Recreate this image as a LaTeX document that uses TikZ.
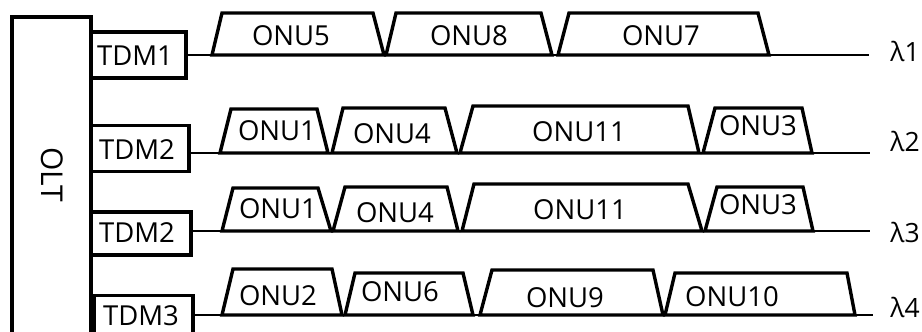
\documentclass[tikz,border=0pt]{standalone}
\usepackage{fontspec}
\setmainfont{Open Sans}
\begin{document}
\begin{tikzpicture}[x=1pt,y=-1pt,
  box/.style={draw,line width=3.2pt,inner sep=0pt},
  slot/.style={draw,line width=3.4pt,line join=miter},
  fibre/.style={draw,line width=1.4pt},
  lbl/.style={inner sep=0pt,font=\fontsize{27.5}{32}\selectfont},
  wl/.style={inner sep=0pt,font=\fontsize{26.5}{30}\selectfont}]
\useasboundingbox[fill=white] (0,0) rectangle (922,332);
\clip (0,0) rectangle (922,332);

% slot macro: name, bottom-left x, top-left x, top-right x, bottom-right x, top y, base y, text position, text
\newcommand\onuslot[9]{%
  \draw[slot] (#2,#7) -- (#3,#6) -- (#4,#6) -- (#5,#7) -- cycle;
  \node[lbl] (#1) at (#8) {#9};}

% OLT and its TDM line cards
\node[box,minimum width=79,minimum height=340] (olt) at (51.5,187) {};
\node[lbl,font=\fontsize{30}{34}\selectfont,rotate=-90] (oltname) at (52,175) {OLT};
\node[box,minimum width=95,minimum height=46] (tdm1) at (138.5,55) {};
\node[box,minimum width=98,minimum height=46] (tdm2) at (140,148.5) {};
\node[box,minimum width=100,minimum height=43] (tdm2b) at (141,233.5) {};
\node[box,minimum width=99,minimum height=49] (tdm3) at (143.5,320) {};
\node[lbl] (tdm1name) at (135,56) {TDM1};
\node[lbl] (tdm2name) at (137,150) {TDM2};
\node[lbl] (tdm2bname) at (137,233) {TDM2};
\node[lbl] (tdm3name) at (141,316) {TDM3};

% fibre ends and wavelength labels
\coordinate (e1) at (869,55);
\coordinate (e2) at (870,153);
\coordinate (e3) at (870,231);
\coordinate (e4) at (873,315);
\node[wl] (w1) at (905,51) {λ1};
\node[wl] (w2) at (905,141) {λ2};
\node[wl] (w3) at (905,232) {λ3};
\node[wl] (w4) at (905,307) {λ4};

\draw[fibre] (tdm1.east |- e1) -- (e1);
\draw[fibre] (tdm2.east |- e2) -- (e2);
\draw[fibre] (tdm2b.east |- e3) -- (e3);
\draw[fibre] (tdm3.east |- e4) -- (e4);

% lambda 1
\onuslot{o5}{212}{222}{373}{384}{13}{55}{291,36}{ONU5}
\onuslot{o8}{386}{396}{541}{552}{13}{55}{469,36}{ONU8}
\onuslot{o7}{558}{569}{758}{769}{13}{55}{661,36}{ONU7}
% lambda 2
\onuslot{o1a}{220}{231}{317}{328}{109}{153}{277,131}{ONU1}
\onuslot{o4a}{332}{343}{445}{457}{108}{153}{392,134}{ONU4}
\onuslot{o11a}{460}{473}{688}{699}{106}{153}{579,132}{ONU11}
\onuslot{o3a}{703}{715}{802}{812}{108}{153}{758,126}{ONU3}
% lambda 3
\onuslot{o1b}{222}{233}{318}{331}{188}{231}{278,209}{ONU1}
\onuslot{o4b}{333}{345}{447}{458}{187}{231}{395,213}{ONU4}
\onuslot{o11b}{462}{474}{688}{702}{184}{231}{580,210}{ONU11}
\onuslot{o3b}{705}{717}{803}{813}{187}{231}{758,205}{ONU3}
% lambda 4
\onuslot{o2}{222}{233}{332}{342}{269}{315}{278,296}{ONU2}
\onuslot{o6}{345}{355}{463}{473}{273}{315}{400,292}{ONU6}
\onuslot{o9}{480}{492}{653}{663}{270}{315}{565,298}{ONU9}
\onuslot{o10}{665}{675}{847}{855}{273}{315}{732,297}{ONU10}
\end{tikzpicture}
\end{document}
